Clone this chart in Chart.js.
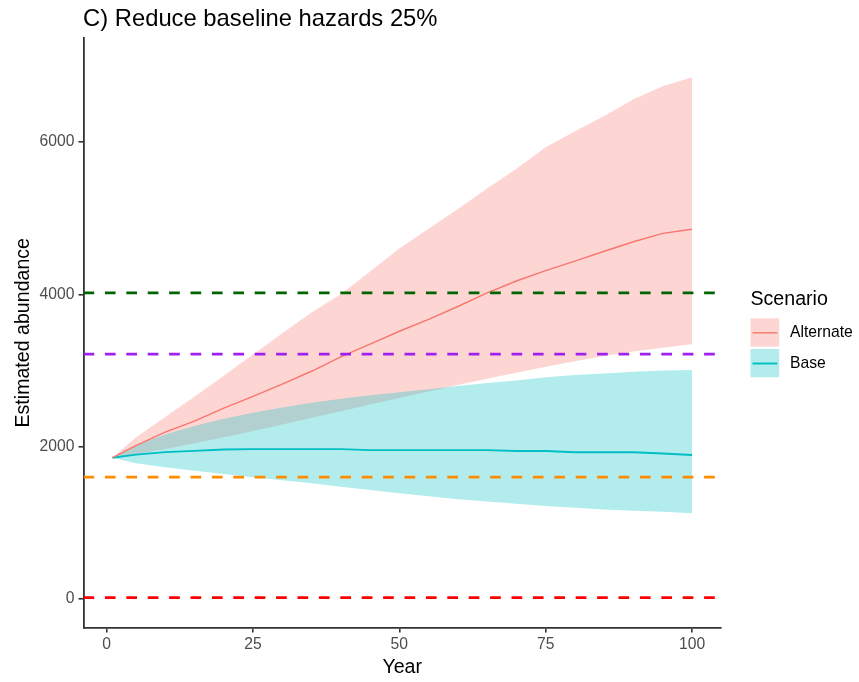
<!DOCTYPE html>
<html>
<head>
<meta charset="utf-8">
<script src="https://cdn.jsdelivr.net/npm/chart.js@4/dist/chart.umd.min.js"></script>
<style>
  html, body { margin: 0; padding: 0; background: #ffffff; }
  #wrap { width: 859px; height: 682px; position: relative; }
</style>
</head>
<body>
<div id="wrap"><canvas id="c" width="859" height="682"></canvas></div>
<script>
// Projection years (sampled every 5 years)
const years = [1, 5, 10, 15, 20, 25, 30, 35, 40, 45, 50, 55, 60, 65, 70, 75, 80, 85, 90, 95, 100];

// Alternate scenario: mean and interval bounds
const altMean  = [1855, 2015, 2190, 2335, 2505, 2660, 2820, 2990, 3180, 3345, 3515, 3670, 3840, 4020, 4175, 4310, 4435, 4565, 4690, 4800, 4855];
const altUpper = [1855, 2120, 2390, 2655, 2930, 3210, 3490, 3760, 4000, 4300, 4600, 4860, 5120, 5390, 5650, 5930, 6140, 6340, 6560, 6730, 6850];
const altLower = [1855, 1905, 1970, 2045, 2125, 2205, 2290, 2380, 2465, 2555, 2640, 2725, 2810, 2890, 2970, 3050, 3120, 3190, 3250, 3300, 3345];

// Base scenario: mean and interval bounds
const baseMean  = [1855, 1895, 1928, 1945, 1962, 1968, 1968, 1968, 1968, 1955, 1955, 1955, 1955, 1955, 1943, 1943, 1926, 1926, 1926, 1910, 1891];
const baseUpper = [1855, 2020, 2160, 2272, 2365, 2445, 2515, 2575, 2630, 2675, 2715, 2755, 2795, 2835, 2870, 2910, 2940, 2960, 2985, 3000, 3006];
const baseLower = [1855, 1782, 1730, 1685, 1641, 1598, 1560, 1519, 1475, 1431, 1388, 1350, 1310, 1280, 1250, 1220, 1198, 1176, 1159, 1145, 1125];

// Reference thresholds
const thresholdValues = [4020, 3215, 1600, 17];
const thresholdColors = ['#006400', '#A020F0', '#FF8C00', '#FF0000'];

// Axis ticks and range
const xTicks = [0, 25, 50, 75, 100];
const yTicks = [0, 2000, 4000, 6000];
const xRange = [-3.95, 104.95];
const yRange = [-374, 7365];

const FONT = '"Liberation Sans", Arial, Helvetica, sans-serif';
Chart.defaults.font.family = FONT;

const pts = (vals) => years.map((y, i) => ({ x: y, y: vals[i] }));

const RED = '#F8766D', TEAL = '#00BFC4';
const PINK_FILL = 'rgba(248,118,109,0.3)', CYAN_FILL = 'rgba(0,191,196,0.3)';

const band = (label, vals, fill, bg) => ({
  label, data: pts(vals), fill, backgroundColor: bg,
  borderWidth: 0, pointRadius: 0, tension: 0
});

// Threshold lines spanning the full panel width
const thresholdSets = thresholdValues.map((v, i) => ({
  label: 'threshold' + i,
  data: [{ x: xRange[0], y: v }, { x: xRange[1], y: v }],
  borderColor: thresholdColors[i], borderWidth: 2.8, borderDash: [10.7, 10.7],
  borderCapStyle: 'butt', pointRadius: 0, fill: false
}));

const datasets = [
  ...thresholdSets,
  { label: 'Alternate', data: pts(altMean), borderColor: RED, borderWidth: 1.4, pointRadius: 0, fill: false },
  { label: 'Base', data: pts(baseMean), borderColor: TEAL, borderWidth: 1.9, pointRadius: 0, fill: false },
  band('Base upper', baseUpper, '+1', CYAN_FILL),
  band('Base lower', baseLower, false, 'transparent'),
  band('Alternate upper', altUpper, '+1', PINK_FILL),
  band('Alternate lower', altLower, false, 'transparent')
];

// Plot title and legend
const annotations = {
  id: 'annotations',
  afterDraw(chart) {
    const ctx = chart.ctx;
    ctx.save();
    ctx.fillStyle = '#000';
    ctx.textBaseline = 'alphabetic';
    ctx.textAlign = 'left';
    ctx.font = '23.8px ' + FONT;
    ctx.fillText('C) Reduce baseline hazards 25%', 83, 25.5);

    // legend
    ctx.font = '19.6px ' + FONT;
    ctx.textBaseline = 'middle';
    ctx.fillText('Scenario', 750.5, 300);
    const keys = [
      { label: 'Alternate', fill: PINK_FILL, line: RED, lw: 1.4, y: 318.3 },
      { label: 'Base', fill: CYAN_FILL, line: TEAL, lw: 1.9, y: 349 }
    ];
    ctx.font = '15.7px ' + FONT;
    keys.forEach(k => {
      ctx.fillStyle = k.fill;
      ctx.fillRect(750.5, k.y, 28.7, 28.3);
      ctx.strokeStyle = k.line;
      ctx.lineWidth = k.lw;
      ctx.beginPath();
      ctx.moveTo(752.5, k.y + 14.5);
      ctx.lineTo(777.3, k.y + 14.5);
      ctx.stroke();
      ctx.fillStyle = '#000';
      ctx.fillText(k.label, 790, k.y + 14.5);
    });
    ctx.restore();
  }
};

const axisCommon = {
  type: 'linear',
  grid: { drawOnChartArea: false, drawTicks: true, tickLength: 5, color: '#333', lineWidth: 1.6 },
  border: { display: true, color: '#333', width: 1.8 },
  ticks: { color: '#4d4d4d', font: { size: 15.7 }, callback: v => String(v) }
};

new Chart(document.getElementById('c'), {
  type: 'line',
  data: { datasets },
  options: {
    responsive: false,
    animation: false,
    events: [],
    layout: { padding: { top: 38, right: 138, left: 0, bottom: 0 } },
    plugins: { legend: { display: false }, tooltip: { enabled: false }, title: { display: false } },
    elements: { line: { tension: 0 } },
    scales: {
      x: {
        ...axisCommon,
        min: xRange[0], max: xRange[1],
        afterBuildTicks: s => { s.ticks = xTicks.map(v => ({ value: v })); },
        afterFit: s => { s.height = 54.5; },
        ticks: { ...axisCommon.ticks, padding: 3, maxRotation: 0, autoSkip: false },
        title: { display: true, text: 'Year', color: '#000', font: { size: 19.6 }, padding: { top: 0, bottom: 3 } }
      },
      y: {
        ...axisCommon,
        min: yRange[0], max: yRange[1],
        afterBuildTicks: s => { s.ticks = yTicks.map(v => ({ value: v })); },
        afterFit: s => { s.width = 83.5; },
        ticks: { ...axisCommon.ticks, padding: 4, autoSkip: false },
        title: { display: true, text: 'Estimated abundance', color: '#000', font: { size: 19.6 }, padding: { top: 11.5, bottom: 0 } }
      }
    }
  },
  plugins: [annotations]
});
</script>
</body>
</html>
